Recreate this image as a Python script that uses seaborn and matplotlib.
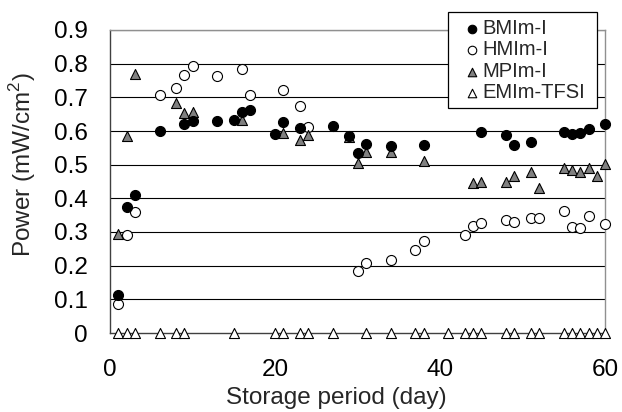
import numpy as np
import seaborn as sns
import matplotlib.pyplot as plt
from matplotlib.ticker import FuncFormatter
from matplotlib.patches import Rectangle

# ── data ────────────────────────────────────────────────────────────────────
days_bmim = [1, 2, 3, 6, 9, 10, 13, 15, 16, 17, 20, 21, 23, 27, 29, 30, 31, 34,
             38, 45, 48, 49, 51, 55, 56, 57, 58, 60]
power_bmim = [0.114, 0.373, 0.41, 0.6, 0.621, 0.629, 0.629, 0.633, 0.655, 0.661,
              0.591, 0.626, 0.608, 0.614, 0.586, 0.534, 0.56, 0.556, 0.559,
              0.598, 0.589, 0.557, 0.567, 0.596, 0.59, 0.595, 0.605, 0.62]

days_hmim = [1, 2, 3, 6, 8, 9, 10, 13, 16, 17, 21, 23, 24, 30, 31, 34, 37, 38,
             43, 44, 45, 48, 49, 51, 52, 55, 56, 57, 58, 60]
power_hmim = [0.087, 0.29, 0.36, 0.706, 0.728, 0.766, 0.794, 0.763, 0.784, 0.708,
              0.722, 0.673, 0.613, 0.183, 0.208, 0.216, 0.247, 0.273,
              0.291, 0.317, 0.328, 0.336, 0.331, 0.342, 0.342, 0.361, 0.314,
              0.312, 0.348, 0.323]

days_mpim = [1, 2, 3, 8, 9, 10, 16, 21, 23, 24, 29, 30, 31, 34, 38, 44, 45, 48,
             49, 51, 52, 55, 56, 57, 58, 59, 60]
power_mpim = [0.295, 0.586, 0.77, 0.683, 0.653, 0.655, 0.633,
              0.595, 0.574, 0.589, 0.581, 0.506, 0.539, 0.539, 0.51,
              0.445, 0.449, 0.45, 0.465, 0.478, 0.432, 0.491, 0.485, 0.478,
              0.49, 0.465, 0.502]

days_emim = [1, 2, 3, 6, 8, 9, 15, 20, 21, 23, 24, 27, 31, 34, 37, 38, 41, 43,
             44, 45, 48, 49, 51, 52, 55, 56, 57, 58, 59, 60]
power_emim = [0.0] * len(days_emim)

y_ticks = [0, 0.1, 0.2, 0.3, 0.4, 0.5, 0.6, 0.7, 0.8, 0.9]
x_ticks = [0, 20, 40, 60]

sns.set_style("white")
plt.rcParams['font.family'] = ['Liberation Sans', 'DejaVu Sans']
plt.rcParams['mathtext.fontset'] = 'custom'
plt.rcParams['mathtext.rm'] = 'Liberation Sans'

W, H = 622, 412
fig = plt.figure(figsize=(W / 100, H / 100), dpi=100)
ax = fig.add_axes([110 / W, 1 - 333 / H, 495 / W, 303 / H])

# gridlines
for v in y_ticks[1:]:
    ax.axhline(v, color="black", lw=0.8, zorder=1)

common = dict(s=52, linewidth=0.8, edgecolor="black", clip_on=False, zorder=3,
              ax=ax, legend=False)
sns.scatterplot(x=days_emim, y=power_emim, marker="^", color="white", **common)
sns.scatterplot(x=days_hmim, y=power_hmim, marker="o", color="white", **common)
sns.scatterplot(x=days_mpim, y=power_mpim, marker="^", color="#808080", **common)
sns.scatterplot(x=days_bmim, y=power_bmim, marker="o", color="black", **common)
emim_pts, hmim_pts, mpim_pts, bmim_pts = ax.collections[:4]

ax.set_xlim(0, 60)
ax.set_ylim(0, 0.9)
ax.set_xticks(x_ticks)
ax.set_yticks(y_ticks)
ax.yaxis.set_major_formatter(FuncFormatter(lambda v, p: "0" if v == 0 else f"{v:.1f}"))
ax.tick_params(direction="in", length=5, width=0.8, labelsize=17.5, colors="black")
ax.tick_params(axis="x", pad=19)
ax.tick_params(axis="y", pad=16)

ax.set_xlabel("Storage period (day)", fontsize=17.5)
ax.set_ylabel("Power (mW/cm$^2$)", fontsize=17.5)
ax.xaxis.set_label_coords(0.457, -0.178)
ax.yaxis.set_label_coords(-0.146, 0.556)

for side in ["left", "bottom"]:
    ax.spines[side].set_color("#404040")
    ax.spines[side].set_linewidth(1.0)
for side in ["top", "right"]:
    ax.spines[side].set_color("#909090")
    ax.spines[side].set_linewidth(1.0)

# legend box drawn separately so its padding can follow the reference
fig.add_artist(Rectangle((448 / W, 1 - 108 / H), 149 / W, 96 / H,
                         transform=fig.transFigure, facecolor="white",
                         edgecolor="black", lw=0.9, zorder=3))
leg = fig.legend([bmim_pts, hmim_pts, mpim_pts, emim_pts],
                 ["BMIm-I", "HMIm-I", "MPIm-I", "EMIm-TFSI"],
                 loc="upper left", bbox_to_anchor=(462 / W, 1 - 19 / H),
                 frameon=False, fontsize=14.5, markerscale=0.85,
                 handletextpad=0.0, handlelength=1.0, borderpad=0,
                 labelspacing=0.12, borderaxespad=0)
leg.set_zorder(4)

fig.savefig("out.png", dpi=100)
